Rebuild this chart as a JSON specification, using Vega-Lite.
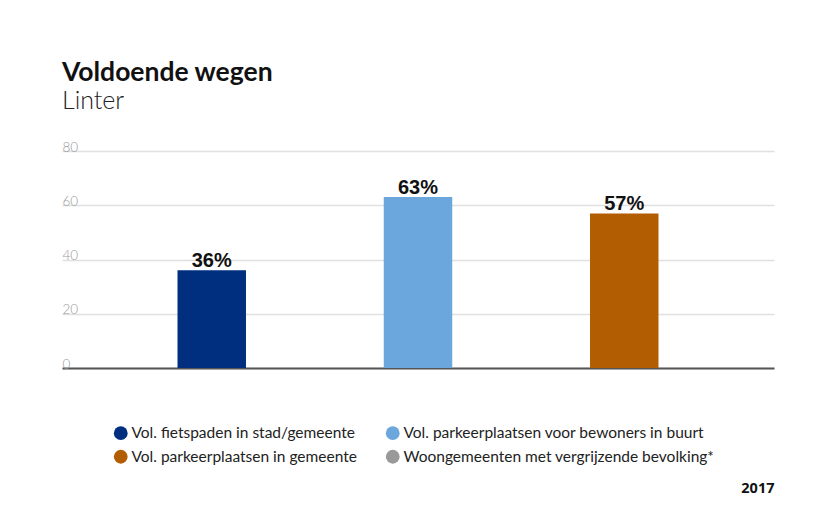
{
  "$schema": "https://vega.github.io/schema/vega-lite/v6.json",
  "width": 712,
  "height": 217,
  "autosize": "none",
  "padding": {"left": 62, "top": 151, "right": 43, "bottom": 154},
  "background": "white",
  "title": {
    "text": "Voldoende wegen",
    "subtitle": "Linter",
    "anchor": "start",
    "font": "Lato",
    "fontSize": 26.5,
    "fontWeight": "bold",
    "color": "#111111",
    "subtitleFont": "Lato",
    "subtitleFontSize": 25,
    "subtitleFontWeight": 300,
    "subtitleColor": "#222222",
    "subtitlePadding": 3,
    "offset": 26
  },
  "data": {
    "values": [
      {"categorie": "Vol. fietspaden in stad/gemeente", "waarde": 36, "label": "36%"},
      {"categorie": "Vol. parkeerplaatsen voor bewoners in buurt", "waarde": 63, "label": "63%"},
      {"categorie": "Vol. parkeerplaatsen in gemeente", "waarde": 57, "label": "57%"}
    ]
  },
  "encoding": {
    "x": {
      "field": "categorie",
      "type": "nominal",
      "sort": null,
      "scale": {"paddingInner": 0.668, "paddingOuter": 0.56},
      "axis": {
        "title": "2017",
        "labels": false,
        "ticks": false,
        "domain": true,
        "domainColor": "#555555",
        "domainWidth": 2,
        "titleAnchor": "end",
        "titleAlign": "right",
        "titleFont": "Noto Sans",
        "titleFontSize": 14.5,
        "titleFontWeight": "bold",
        "titleColor": "#111111",
        "titlePadding": 113
      }
    },
    "y": {
      "field": "waarde",
      "type": "quantitative",
      "scale": {"domain": [0, 80]},
      "axis": {
        "title": null,
        "values": [0, 20, 40, 60, 80],
        "domain": false,
        "ticks": false,
        "grid": true,
        "gridColor": "#e0e0e0",
        "gridWidth": 1.5,
        "labelAlign": "left",
        "labelBaseline": "alphabetic",
        "labelPadding": 0,
        "labelDx": 2,
        "labelDy": -4,
        "labelFont": "Lato",
        "labelFontSize": 13.5,
        "labelFontWeight": 300,
        "labelColor": "#999999"
      }
    }
  },
  "layer": [
    {
      "mark": {"type": "bar"},
      "encoding": {
        "color": {
          "field": "categorie",
          "type": "nominal",
          "scale": {
            "domain": [
              "Vol. fietspaden in stad/gemeente",
              "Vol. parkeerplaatsen in gemeente",
              "Vol. parkeerplaatsen voor bewoners in buurt",
              "Woongemeenten met vergrijzende bevolking*"
            ],
            "range": ["#012f7f", "#b35d03", "#6ba6dd", "#999999"]
          },
          "legend": {
            "title": null,
            "orient": "none",
            "legendX": 51,
            "legendY": 274,
            "columns": 2,
            "columnPadding": 28,
            "rowPadding": 7,
            "symbolType": "circle",
            "symbolSize": 190,
            "symbolStrokeWidth": 0,
            "labelOffset": 3,
            "labelFont": "Lato",
            "labelFontSize": 15.5,
            "labelColor": "#222222",
            "labelLimit": 400
          }
        }
      }
    },
    {
      "mark": {
        "type": "text",
        "baseline": "alphabetic",
        "dy": -3,
        "font": "Liberation Sans",
        "fontSize": 20,
        "fontWeight": "bold",
        "color": "#111111"
      },
      "encoding": {
        "text": {"field": "label", "type": "nominal"}
      }
    }
  ],
  "config": {"view": {"stroke": null}}
}
